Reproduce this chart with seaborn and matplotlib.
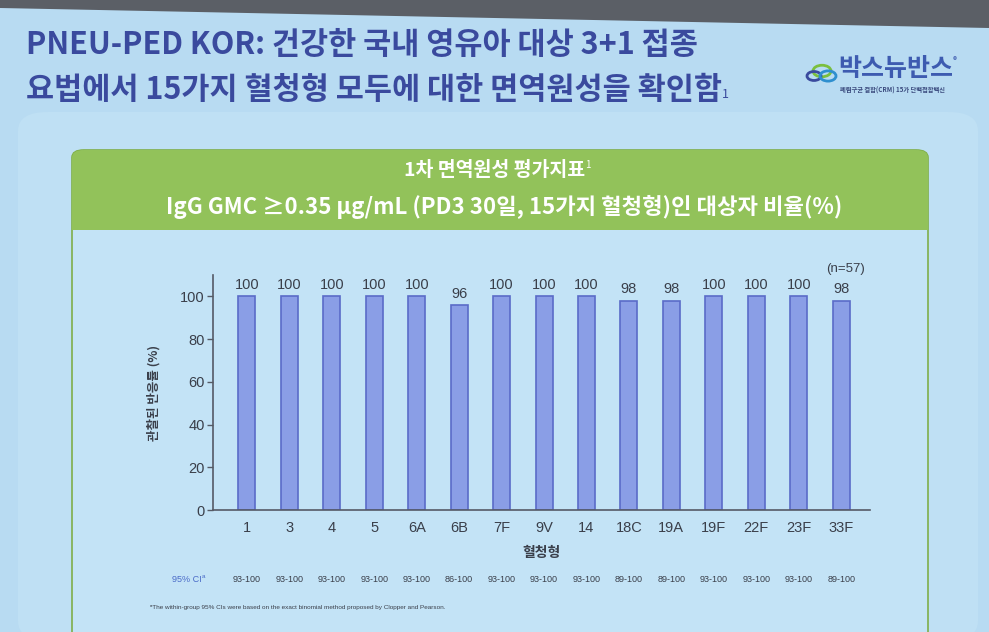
import numpy as np
import pandas as pd
import matplotlib
matplotlib.use('Agg')
import matplotlib.pyplot as plt
import matplotlib.transforms as mtransforms
from matplotlib.patches import FancyBboxPatch, Rectangle, Circle, Polygon
import seaborn as sns

# data
serotypes = ['1', '3', '4', '5', '6A', '6B', '7F', '9V', '14', '18C', '19A', '19F', '22F', '23F', '33F']
response_pct = [100, 100, 100, 100, 100, 96, 100, 100, 100, 98, 98, 100, 100, 100, 98]
ci_95 = ['93-100', '93-100', '93-100', '93-100', '93-100', '86-100', '93-100', '93-100',
         '93-100', '89-100', '89-100', '93-100', '93-100', '93-100', '89-100']
y_ticks = [0, 20, 40, 60, 80, 100]

df = pd.DataFrame({'serotype': serotypes, 'pct': response_pct})

sns.set_theme(style='white')
plt.rcParams['font.family'] = ['Noto Sans CJK KR', 'DejaVu Sans']
ARIAL = ['Liberation Sans', 'DejaVu Sans']

BG = '#b8dbf2'
PANEL = '#c3e3f6'
GREEN = '#92c25a'
TITLE_C = '#3a4a9e'
BAR_C = '#8a9ee6'
EDGE_C = '#5a6bc8'
TXT = '#3a3f4a'

fig = plt.figure(figsize=(9.89, 6.32), dpi=100)
fig.patch.set_facecolor(BG)
renderer = fig.canvas.get_renderer()

W, H = 989.0, 632.0
def fx(px):
    return px / W
def fy(py):
    return 1 - py / H

def sup_after(txt, s, dy, **kw):
    # put a small superscript right after a text
    bb = txt.get_window_extent(renderer=renderer)
    fig.text(bb.x1 / W, fy(dy), s, va='center', ha='left', **kw)

# dark band at the top of the photo
fig.patches.append(Polygon([[0, 1], [1, 1], [1, fy(28)], [0, fy(8)]], closed=True,
                           transform=fig.transFigure, facecolor='#5b5f66', edgecolor='none', zorder=0))

# outer rounded slide panel
fig.patches.append(FancyBboxPatch((fx(18), fy(640)), fx(960), fy(112) - fy(640),
                                  boxstyle='round,pad=0,rounding_size=0.03',
                                  transform=fig.transFigure, facecolor='#bfe0f4',
                                  edgecolor='none', zorder=0))
# chart panel
fig.patches.append(FancyBboxPatch((fx(72), fy(640)), fx(856), fy(150) - fy(640),
                                  boxstyle='round,pad=0,rounding_size=0.012',
                                  transform=fig.transFigure, facecolor=PANEL,
                                  edgecolor='#7fae4a', linewidth=1.2, zorder=0))
# green header
fig.patches.append(FancyBboxPatch((fx(72), fy(230)), fx(856), fy(150) - fy(230),
                                  boxstyle='round,pad=0,rounding_size=0.012',
                                  transform=fig.transFigure, facecolor=GREEN,
                                  edgecolor='none', zorder=1))
fig.patches.append(Rectangle((fx(72), fy(230)), fx(856), 0.02,
                             transform=fig.transFigure, facecolor=GREEN,
                             edgecolor='none', zorder=1))

# slide title
fig.text(fx(26), fy(45), 'PNEU-PED KOR: 건강한 국내 영유아 대상 3+1 접종', fontsize=22,
         fontweight='bold', color=TITLE_C, va='center', ha='left')
t2 = fig.text(fx(26), fy(90), '요법에서 15가지 혈청형 모두에 대한 면역원성을 확인함', fontsize=22,
              fontweight='bold', color=TITLE_C, va='center', ha='left')
sup_after(t2, '1', 94, fontsize=9, color=TITLE_C)

# logo
for cx, cy, r, c in [(822, 71, 9, '#7bbf3e'), (814, 76, 7, '#3a4a9e'), (828, 76, 8, '#2e8fcf')]:
    fig.patches.append(Circle((fx(cx), fy(cy)), r / W, transform=fig.transFigure,
                              facecolor='none', edgecolor=c, linewidth=2, zorder=2))
lg = fig.text(fx(838), fy(69), '박스뉴반스', fontsize=18, fontweight='bold', color='#3d5bb0',
              va='center', ha='left')
sup_after(lg, '®', 61, fontsize=6, color='#3d5bb0')
fig.text(fx(840), fy(90), '폐렴구균 결합(CRM) 15가 단백접합백신', fontsize=4.5,
         fontweight='bold', color='#3a4a7e', va='center', ha='left')

# header text
h1 = fig.text(0.5, fy(170), '1차 면역원성 평가지표', fontsize=14, fontweight='bold',
              color='white', va='center', ha='center', zorder=3)
sup_after(h1, '1', 165, fontsize=7, color='white', zorder=3)
fig.text(fx(504), fy(207), 'IgG GMC ≥0.35 μg/mL (PD3 30일, 15가지 혈청형)인 대상자 비율(%)',
         fontsize=16, fontweight='bold', color='white', va='center', ha='center', zorder=3)

# bar chart
ax = fig.add_axes([fx(213), fy(510), fx(870) - fx(213), fy(275) - fy(510)])
ax.set_zorder(5)
ax.set_facecolor('none')
sns.barplot(data=df, x='serotype', y='pct', color=BAR_C, width=0.4,
            edgecolor=EDGE_C, linewidth=1.2, saturation=1, ax=ax)
ax.set_xlim(-0.8, 14.68)
ax.set_ylim(0, 110)
ax.set_yticks(y_ticks)
ax.tick_params(axis='y', length=4, width=1, color='#555a66', labelsize=10.5, labelcolor=TXT, pad=2,
               left=True)
ax.tick_params(axis='x', length=0, labelsize=10.5, labelcolor=TXT, pad=8)
for lab in ax.get_xticklabels() + ax.get_yticklabels():
    lab.set_family(ARIAL)
for s in ['top', 'right']:
    ax.spines[s].set_visible(False)
for s in ['left', 'bottom']:
    ax.spines[s].set_color('#555a66')
    ax.spines[s].set_linewidth(1.2)
ax.bar_label(ax.containers[0], labels=[str(v) for v in response_pct], padding=3,
             fontsize=10.5, color=TXT, family=ARIAL)
ax.set_xlabel('혈청형', fontsize=10, fontweight='bold', color=TXT, labelpad=8)
ax.set_ylabel('관찰된 반응률 (%)', fontsize=9, fontweight='bold', color=TXT, labelpad=14)
ax.text(14.1, 113, '(n=57)', fontsize=9.5, color=TXT, ha='center', va='center', clip_on=False,
        family=ARIAL)

# 95% CI row
blend = mtransforms.blended_transform_factory(ax.transData, fig.transFigure)
ci_lab = fig.text(fx(172), fy(580), '95% CI', fontsize=6.5, color='#4a6bc8', va='center', ha='left',
                  zorder=6, family=ARIAL)
sup_after(ci_lab, 'a', 577, fontsize=4.5, color='#4a6bc8', zorder=6, family=ARIAL)
for i, lab in enumerate(ci_95):
    ax.text(i, fy(580), lab, transform=blend, fontsize=6.5, color=TXT, ha='center',
            va='center', clip_on=False, family=ARIAL)

# footnote
fig.text(fx(150), fy(607), 'ᵃThe within-group 95% CIs were based on the exact binomial method '
         'proposed by Clopper and Pearson.', fontsize=4.6, color=TXT, va='center', ha='left',
         zorder=6, family=ARIAL)

fig.savefig('out.png', dpi=100, facecolor=fig.get_facecolor())
